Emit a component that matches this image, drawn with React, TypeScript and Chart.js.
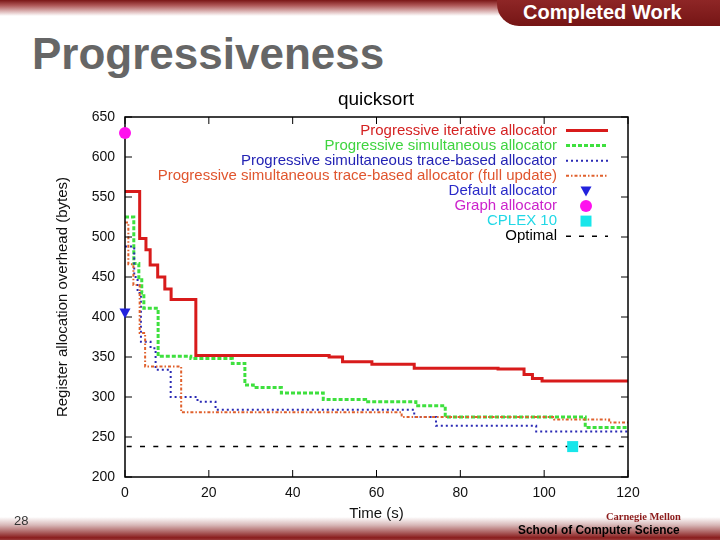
import React, { useEffect, useRef } from "react";
import { Chart, registerables } from "chart.js";

Chart.register(...registerables);

// ---- data ----
const iterTimes = [0, 3.5, 5.0, 6.0, 7.8, 9.5, 11.0, 16.9, 48.7, 51.9, 58.9, 69.0, 89.0, 95.2, 97.2, 99.5, 120];
const iterValues = [557, 498, 484, 465, 450, 435, 422, 352, 350, 344, 341, 336, 335, 328, 323, 320, 320];

const simTimes = [0, 2.1, 3.3, 4.0, 4.5, 7.9, 15.7, 25.6, 28.6, 30.6, 37.3, 47.3, 57.4, 69.4, 76.4, 109.8, 120];
const simValues = [525, 467, 449, 430, 411, 351, 348, 342, 315, 312, 305, 297, 294, 289, 275, 262, 262];

const traceTimes = [0, 2.2, 3.0, 3.8, 6.1, 7.3, 10.9, 17.3, 21.6, 69.0, 74.2, 98.1, 120];
const traceValues = [488, 450, 430, 369, 361, 334, 300, 294, 284, 275, 264, 257, 257];

const fullTimes = [0, 0.8, 2.0, 3.5, 4.8, 13.4, 66.0, 102.4, 115.5, 120];
const fullValues = [518, 466, 440, 380, 338, 281, 275, 272, 268, 268];

const defaultPoint = { t: 0, v: 405 };
const graphPoint = { t: 0, v: 630 };
const cplexPoint = { t: 106.8, v: 238 };
const optimalValue = 238;

const xTicks = [0, 20, 40, 60, 80, 100, 120];
const yTicks = [200, 250, 300, 350, 400, 450, 500, 550, 600, 650];

const seriesLabels = [
  "Progressive iterative allocator",
  "Progressive simultaneous allocator",
  "Progressive simultaneous trace-based allocator",
  "Progressive simultaneous trace-based allocator (full update)",
  "Default allocator",
  "Graph allocator",
  "CPLEX 10",
  "Optimal",
];
const legendTextColors = ["#d42222", "#3fd43f", "#2424b4", "#e0552e", "#2a2ac8", "#cc22cc", "#22d8e6", "#000000"];

const FONT = "'Liberation Sans', Arial, Helvetica, sans-serif";

const pts = (ts: number[], vs: number[]) => ts.map((t, i) => ({ x: t, y: vs[i] }));

function drawMarker(ctx: CanvasRenderingContext2D, style: string, x: number, y: number, color: string) {
  ctx.save();
  ctx.fillStyle = color;
  ctx.setLineDash([]);
  ctx.beginPath();
  if (style === "triangleDown") {
    ctx.moveTo(x - 5.5, y - 4.5);
    ctx.lineTo(x + 5.5, y - 4.5);
    ctx.lineTo(x, y + 5.5);
    ctx.closePath();
  } else if (style === "circle") {
    ctx.arc(x, y, 6, 0, Math.PI * 2);
  } else {
    ctx.rect(x - 5.5, y - 5.5, 11, 11);
  }
  ctx.fill();
  ctx.restore();
}

const framePlugin = {
  id: "frameAndLegend",
  afterDatasetsDraw(chart: any) {
    const { ctx, chartArea: a, scales } = chart;
    ctx.save();
    ctx.strokeStyle = "#000";
    ctx.lineWidth = 1.5;
    ctx.setLineDash([]);
    ctx.strokeRect(a.left, a.top, a.right - a.left, a.bottom - a.top);
    ctx.lineWidth = 1;
    ctx.beginPath();
    for (const v of yTicks) {
      const y = scales.y.getPixelForValue(v);
      ctx.moveTo(a.left, y);
      ctx.lineTo(a.left + 7, y);
      ctx.moveTo(a.right, y);
      ctx.lineTo(a.right - 7, y);
    }
    for (const t of xTicks) {
      const x = scales.x.getPixelForValue(t);
      ctx.moveTo(x, a.bottom);
      ctx.lineTo(x, a.bottom - 7);
      ctx.moveTo(x, a.top);
      ctx.lineTo(x, a.top + 7);
    }
    ctx.stroke();

    const textRight = 557;
    const sampleL = 566;
    const sampleR = 608;
    const rowTop = 130.5;
    const rowGap = 15.1;
    ctx.font = `15px ${FONT}`;
    ctx.textAlign = "right";
    ctx.textBaseline = "middle";
    chart.data.datasets.forEach((ds: any, i: number) => {
      const y = rowTop + i * rowGap;
      ctx.fillStyle = legendTextColors[i];
      ctx.fillText(ds.label, textRight, y);
      if (ds.showLine === false) {
        drawMarker(ctx, ds.markerStyle, (sampleL + sampleR) / 2 - 1, y, ds.backgroundColor);
      } else {
        ctx.save();
        ctx.strokeStyle = ds.borderColor;
        ctx.lineWidth = ds.borderWidth;
        ctx.setLineDash(ds.legendDash || ds.borderDash || []);
        ctx.beginPath();
        ctx.moveTo(sampleL, y);
        ctx.lineTo(sampleR, y);
        ctx.stroke();
        ctx.restore();
      }
    });
    ctx.restore();
  },
};

const markerPlugin = {
  id: "customMarkers",
  afterDatasetsDraw(chart: any) {
    const { ctx, scales } = chart;
    chart.data.datasets.forEach((ds: any) => {
      if (ds.showLine !== false) return;
      ds.data.forEach((p: any) => {
        drawMarker(ctx, ds.markerStyle, scales.x.getPixelForValue(p.x), scales.y.getPixelForValue(p.y), ds.backgroundColor);
      });
    });
  },
};

function PlotCanvas() {
  const ref = useRef<HTMLCanvasElement | null>(null);
  useEffect(() => {
    if (!ref.current) return;
    const chart = new Chart(ref.current, {
      type: "scatter",
      data: {
        datasets: [
          {
            label: seriesLabels[0],
            data: pts(iterTimes, iterValues),
            showLine: true,
            stepped: true,
            borderColor: "#d81b1b",
            borderWidth: 3,
            pointRadius: 0,
            order: 5,
          },
          {
            label: seriesLabels[1],
            data: pts(simTimes, simValues),
            showLine: true,
            stepped: true,
            borderColor: "#3ee03e",
            borderWidth: 3,
            borderDash: [4, 2],
            pointRadius: 0,
            order: 4,
          },
          {
            label: seriesLabels[2],
            data: pts(traceTimes, traceValues),
            showLine: true,
            stepped: true,
            borderColor: "#2a2ab4",
            borderWidth: 2,
            borderDash: [2, 3],
            pointRadius: 0,
            order: 3,
          },
          {
            label: seriesLabels[3],
            data: pts(fullTimes, fullValues),
            showLine: true,
            stepped: true,
            borderColor: "#e0602c",
            borderWidth: 2,
            borderDash: [3, 2, 1.5, 2],
            pointRadius: 0,
            order: 2,
          },
          {
            label: seriesLabels[4],
            data: [{ x: defaultPoint.t, y: defaultPoint.v }],
            showLine: false,
            markerStyle: "triangleDown",
            backgroundColor: "#2222dd",
            pointRadius: 0,
            clip: false,
            order: 0,
          } as any,
          {
            label: seriesLabels[5],
            data: [{ x: graphPoint.t, y: graphPoint.v }],
            showLine: false,
            markerStyle: "circle",
            backgroundColor: "#ff10ee",
            pointRadius: 0,
            clip: false,
            order: 0,
          } as any,
          {
            label: seriesLabels[6],
            data: [{ x: cplexPoint.t, y: cplexPoint.v }],
            showLine: false,
            markerStyle: "rect",
            backgroundColor: "#18e6ea",
            pointRadius: 0,
            clip: false,
            order: 0,
          } as any,
          {
            label: seriesLabels[7],
            data: [
              { x: xTicks[0], y: optimalValue },
              { x: xTicks[xTicks.length - 1], y: optimalValue },
            ],
            showLine: true,
            borderColor: "#000000",
            borderWidth: 1.5,
            borderDash: [5, 8.3],
            borderDashOffset: -1.7,
            legendDash: [5, 8],
            pointRadius: 0,
            order: 1,
          } as any,
        ],
      },
      options: {
        animation: false,
        responsive: false,
        events: [],
        layout: { padding: { left: 50, top: 117, right: 92, bottom: 13 } },
        plugins: {
          legend: { display: false },
          title: { display: false },
          tooltip: { enabled: false },
        },
        scales: {
          x: {
            type: "linear",
            min: 0,
            max: 120,
            afterBuildTicks: (s: any) => {
              s.ticks = xTicks.map((v) => ({ value: v }));
            },
            afterFit: (s: any) => {
              s.height = 50;
            },
            grid: { display: false, drawTicks: false },
            border: { display: false },
            ticks: { color: "#111", padding: 8, font: { family: FONT, size: 14 } },
            title: { display: true, text: "Time (s)", color: "#111", font: { family: FONT, size: 15 } },
          },
          y: {
            type: "linear",
            min: 200,
            max: 650,
            afterBuildTicks: (s: any) => {
              s.ticks = yTicks.map((v) => ({ value: v }));
            },
            afterFit: (s: any) => {
              s.width = 75;
            },
            grid: { display: false, drawTicks: false },
            border: { display: false },
            ticks: { color: "#111", padding: 10, font: { family: FONT, size: 14 } },
            title: {
              display: true,
              text: "Register allocation overhead (bytes)",
              color: "#111",
              font: { family: FONT, size: 15 },
            },
          },
        },
      },
      plugins: [framePlugin, markerPlugin],
    } as any);
    return () => chart.destroy();
  }, []);
  return <canvas ref={ref} width={720} height={540} style={{ position: "absolute", left: 0, top: 0 }} />;
}

export default function App() {
  return (
    <div
      style={{
        position: "fixed",
        left: 0,
        top: 0,
        width: 720,
        height: 540,
        background: "#fff",
        overflow: "hidden",
        fontFamily: FONT,
      }}
    >
      {/* top banner */}
      <div
        style={{
          position: "absolute",
          left: 0,
          top: 0,
          width: 720,
          height: 16,
          background: "linear-gradient(to bottom, #7a1616 0%, #b05a5a 35%, #ffffff 100%)",
        }}
      />
      <div
        style={{
          position: "absolute",
          left: 497,
          top: 0,
          width: 223,
          height: 26,
          background: "linear-gradient(to bottom, #8e2626, #751515)",
          borderBottomLeftRadius: 22,
        }}
      />
      <div
        style={{
          position: "absolute",
          left: 523,
          top: 1,
          color: "#fff",
          fontWeight: "bold",
          fontSize: 20,
          lineHeight: "22px",
          whiteSpace: "nowrap",
        }}
      >
        Completed Work
      </div>
      <div
        style={{
          position: "absolute",
          left: 32,
          top: 32,
          color: "#666",
          fontWeight: "bold",
          fontSize: 44,
          lineHeight: "44px",
          whiteSpace: "nowrap",
        }}
      >
        Progressiveness
      </div>

      {/* footer band (behind the chart canvas) */}
      <div
        style={{
          position: "absolute",
          left: 0,
          top: 517,
          width: 720,
          height: 23,
          background: "linear-gradient(to bottom, #ffffff 0%, #d8b8b8 35%, #8a1e1e 90%, #9a3a3a 100%)",
        }}
      />

      <PlotCanvas />

      <div
        style={{
          position: "absolute",
          left: 276,
          width: 200,
          top: 89,
          textAlign: "center",
          color: "#000",
          fontSize: 19,
          lineHeight: "19px",
          whiteSpace: "nowrap",
        }}
      >
        quicksort
      </div>

      <div style={{ position: "absolute", left: 14, top: 514, fontSize: 13, color: "#333", lineHeight: "14px" }}>28</div>
      <div
        style={{
          position: "absolute",
          left: 606,
          top: 511,
          fontSize: 10.5,
          color: "#8b1a1a",
          fontFamily: "'Liberation Serif', 'DejaVu Serif', serif",
          fontWeight: "bold",
          lineHeight: "11px",
          whiteSpace: "nowrap",
        }}
      >
        Carnegie Mellon
      </div>
      <div
        style={{
          position: "absolute",
          left: 518,
          top: 522,
          fontSize: 13.5,
          color: "#000",
          fontWeight: "bold",
          lineHeight: "15px",
          whiteSpace: "nowrap",
          transform: "scaleX(0.88)",
          transformOrigin: "left top",
        }}
      >
        School of Computer Science
      </div>
    </div>
  );
}
